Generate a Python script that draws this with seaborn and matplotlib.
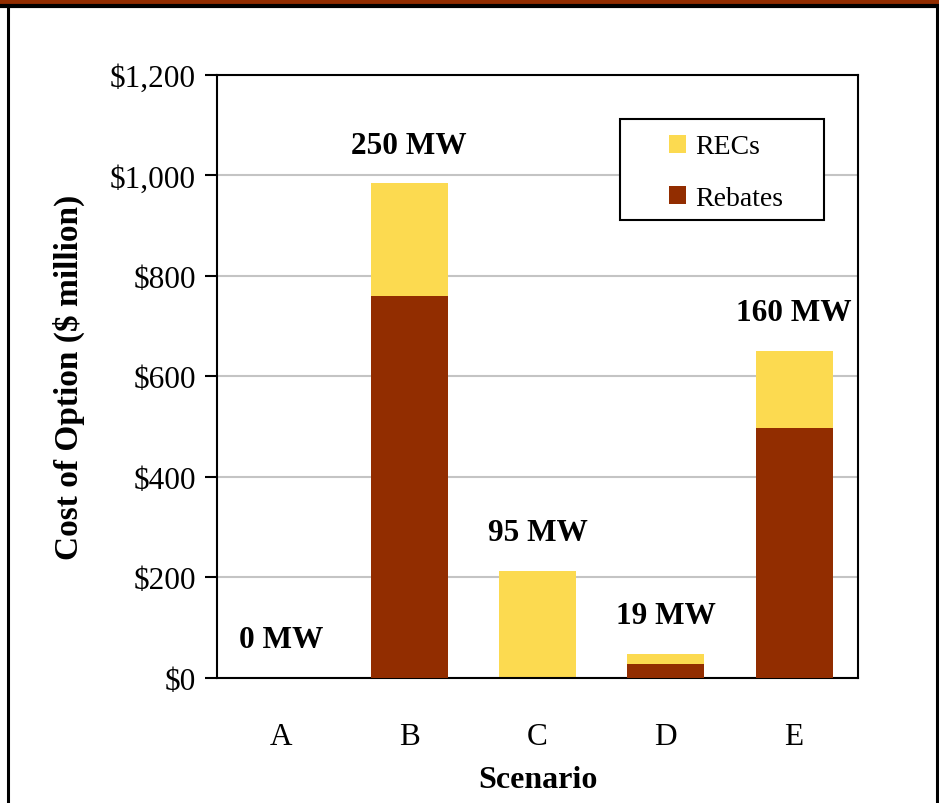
import matplotlib
matplotlib.use("Agg")
import matplotlib.pyplot as plt
import seaborn as sns
import pandas as pd
from matplotlib.patches import Patch
from matplotlib.lines import Line2D

# values ($ million)
scenarios = ['A', 'B', 'C', 'D', 'E']
rebates = [0, 760, 0, 28, 497]
recs = [0, 225, 213, 20, 154]
mw_labels = ['0 MW', '250 MW', '95 MW', '19 MW', '160 MW']
y_ticks = [0, 200, 400, 600, 800, 1000, 1200]

yellow = '#FCDA50'
brown = '#922D00'

df = pd.DataFrame({'Scenario': scenarios, 'Rebates': rebates, 'RECs': recs})
df['Total'] = df['Rebates'] + df['RECs']

sns.set_style('white')
plt.rcParams['font.family'] = ['Liberation Serif', 'DejaVu Serif']
for k in ['text.color', 'axes.labelcolor', 'xtick.color', 'ytick.color']:
    plt.rcParams[k] = 'black'

fig = plt.figure(figsize=(9.39, 8.04), dpi=100)
ax = fig.add_axes([0.231, 0.1555, 0.683, 0.75])

sns.barplot(data=df, x='Scenario', y='Total', color=yellow, width=0.6,
            saturation=1, linewidth=0, ax=ax, zorder=2)
sns.barplot(data=df, x='Scenario', y='Rebates', color=brown, width=0.6,
            saturation=1, linewidth=0, ax=ax, zorder=3)

ax.set_ylim(0, 1200)
ax.set_xlim(-0.5, 4.5)
ax.set_yticks(y_ticks)
ax.set_yticklabels(['${:,}'.format(v) for v in y_ticks])
ax.yaxis.grid(True, color='#C4C4C4', linewidth=1.5, zorder=0)
ax.set_axisbelow(True)
for s in ax.spines.values():
    s.set_visible(True)
    s.set_color('black')
    s.set_linewidth(1.5)

ax.tick_params(axis='y', length=9, width=1.5, direction='out', left=True,
               labelsize=22.5, pad=6)
ax.tick_params(axis='x', length=0, labelsize=22.5, pad=32)

ax.set_xlabel('Scenario', fontsize=23, fontweight='bold', labelpad=10)
ax.set_ylabel('Cost of Option ($ million)', fontsize=24, fontweight='bold', labelpad=18)

# MW labels above bars
for i, row in df.iterrows():
    ax.annotate(mw_labels[i], (i, row['Total']), xytext=(0, 38),
                textcoords='offset pixels', ha='center', va='center',
                fontsize=22.5, fontweight='bold')

# legend box drawn separately (wide side padding like the original)
ax.add_patch(plt.Rectangle((0.629, 0.7595), 0.318, 0.1675, transform=ax.transAxes,
                           facecolor='white', edgecolor='black', linewidth=1.5,
                           zorder=5))
handles = [Patch(facecolor=yellow, edgecolor='none', label='RECs'),
           Patch(facecolor=brown, edgecolor='none', label='Rebates')]
leg = ax.legend(handles=handles, loc='center', bbox_to_anchor=(0.794, 0.838),
                fontsize=20, frameon=False, handlelength=0.62,
                handleheight=0.62, labelspacing=0.95, borderpad=0,
                handletextpad=0.35, borderaxespad=0)
leg.set_zorder(6)

# outer frame with the brown band at the top
fig.add_artist(plt.Rectangle((0, 0.9925), 1, 0.0075, transform=fig.transFigure,
                             facecolor=brown, edgecolor='none'))
fig.add_artist(Line2D([0, 1], [0.9915, 0.9915], transform=fig.transFigure,
                      color='black', linewidth=3))
fig.add_artist(Line2D([0.0085, 0.0085], [0, 0.992], transform=fig.transFigure,
                      color='black', linewidth=2.2))
fig.add_artist(Line2D([0.9975, 0.9975], [0, 0.992], transform=fig.transFigure,
                      color='black', linewidth=2.2))

fig.savefig('out.png', dpi=100)
